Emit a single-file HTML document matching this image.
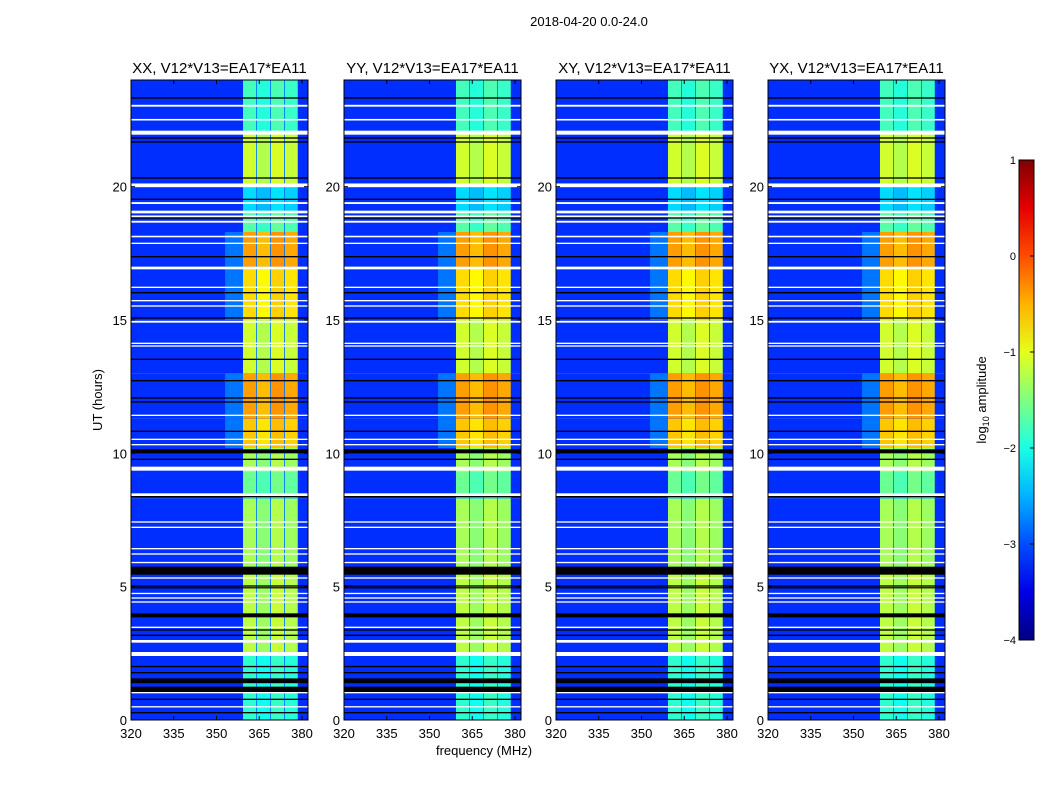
<!DOCTYPE html>
<html><head><meta charset="utf-8"><style>
body{margin:0;background:#fff;}
svg text{font-family:"Liberation Sans",sans-serif;fill:#000;}
</style></head><body>
<svg id="fig" width="1050" height="800" xmlns="http://www.w3.org/2000/svg">
<defs><linearGradient id="jetg" x1="0" y1="1" x2="0" y2="0"></linearGradient></defs>
<text x="589" y="26" font-size="13" text-anchor="middle">2018-04-20 0.0-24.0</text>
<text x="484" y="755" font-size="13" text-anchor="middle">frequency (MHz)</text>
<text transform="translate(102,400) rotate(-90)" font-size="13" text-anchor="middle">UT (hours)</text>
<text transform="translate(986,400) rotate(-90)" font-size="13" text-anchor="middle">log<tspan font-size="9" dy="3">10</tspan><tspan dy="-3"> amplitude</tspan></text>
</svg>
<script>
const panelTitles=["XX, V12*V13=EA17*EA11","YY, V12*V13=EA17*EA11","XY, V12*V13=EA17*EA11","YX, V12*V13=EA17*EA11"];
const freqTicks=[320,335,350,365,380];
const timeTicks=[0,5,10,15,20];
const cbTicks=[1,0,-1,-2,-3,-4];
const cbLabels=["1","0","\u22121","\u22122","\u22123","\u22124"];
const segStart=[0,2.5,5.6,8.3,9.3,10.2,11.3,13.0,15.0,17.0,18.3,19.0,20.0,22.0];
const segEnd=[2.5,5.6,8.3,9.3,10.2,11.3,13.0,15.0,17.0,18.3,19.0,20.0,22.0,24.0];
const segValue=[-1.9,-1.2,-1.3,-1.6,-1.3,-0.6,-0.4,-1.1,-0.7,-0.4,-1.7,-2.3,-1.1,-1.8];
const bgValue=-3.15;
const subbandStart=[359.3,364.2,369.1,374.0];
const subbandEnd=[363.9,368.8,373.7,378.5];
const subbandOffset=[0.0,-0.15,0.05,-0.05];
const whiteFlags=[[23.0,23.07],[22.48,22.54],[21.95,22.1],[19.98,20.12],[19.35,19.42],[19.0,19.1],[18.85,18.92],[18.65,18.72],[18.1,18.16],[17.85,17.9],[16.9,17.0],[16.2,16.25],[15.7,15.75],[15.5,15.55],[14.9,14.97],[14.1,14.15],[14.0,14.05],[11.4,11.45],[10.5,10.55],[10.3,10.35],[9.35,9.5],[8.4,8.5],[7.4,7.45],[7.2,7.25],[6.4,6.45],[6.2,6.25],[5.88,5.93],[5.3,5.35],[4.72,4.77],[4.55,4.6],[4.4,4.45],[3.45,3.5],[2.9,3.0],[2.4,2.55],[1.0,1.05],[0.47,0.52]];
const blackFlags=[[23.3,23.35],[21.8,21.85],[21.65,21.7],[20.3,20.35],[19.5,19.55],[18.8,18.85],[17.35,17.4],[16.0,16.05],[15.05,15.1],[13.5,13.55],[12.7,12.75],[12.05,12.1],[11.9,11.95],[10.8,10.85],[10.0,10.15],[9.75,9.8],[8.35,8.4],[5.45,5.75],[5.0,5.05],[4.96,4.98],[3.85,4.0],[3.35,3.4],[3.15,3.2],[1.98,2.03],[1.75,1.8],[1.38,1.56],[1.05,1.25],[0.75,0.8],[0.25,0.3]];
const NS="http://www.w3.org/2000/svg";
const svg=document.getElementById('fig');
function jet(v){let t=Math.max(0,Math.min(1,(v+4)/5));const c=x=>Math.round(255*Math.max(0,Math.min(1,x)));
return `rgb(${c(1.5-Math.abs(4*t-3))},${c(1.5-Math.abs(4*t-2))},${c(1.5-Math.abs(4*t-1))})`;}
function mk(tag,attrs,parent){const e=document.createElementNS(NS,tag);for(const k in attrs)e.setAttribute(k,attrs[k]);(parent||svg).appendChild(e);return e;}
const panelX=[131,344,556,768],PW=177,PT=80,PB=720;
const fmin=320,fpx=2.85,tmax=24;
panelTitles.forEach((title,p)=>{
 const x0=panelX[p];
 const g=mk('g',{});
 
 
 const xs=f=>x0+(f-fmin)*fpx;
 const ys=h=>PB-(h/tmax)*(PB-PT);
 const clipId='clip'+p;
 const cp=mk('clipPath',{id:clipId},g);mk('rect',{x:x0,y:PT,width:PW,height:PB-PT},cp);
 const hm=mk('g',{'clip-path':`url(#${clipId})`},g);
 
 
 for(let i=0;i<segStart.length;i++){
  const y1=ys(segEnd[i]),y2=ys(segStart[i]),v=segValue[i];
  const r=mk('rect',{x:x0,y:y1,width:PW,height:y2-y1,fill:jet(bgValue)},hm);
  
  
  if(v>-0.9){const tl=mk('rect',{x:xs(353),y:y1,width:xs(359.3)-xs(353),height:y2-y1,fill:jet(bgValue+0.35)},hm);
   
   }
  mk('rect',{x:xs(subbandStart[0]),y:y1,width:xs(subbandEnd[3])-xs(subbandStart[0]),height:y2-y1,fill:jet(-2.8)},hm);
  for(let s=0;s<subbandStart.length;s++){
   const c=mk('rect',{x:xs(subbandStart[s]),y:y1,width:xs(subbandEnd[s])-xs(subbandStart[s]),height:y2-y1,fill:jet(v+subbandOffset[s])},hm);
   
   
  }
 }
 whiteFlags.forEach(([a,b])=>{const r=mk('rect',{x:x0,y:ys(b),width:PW,height:Math.max(1.2,ys(a)-ys(b)),fill:'#fff'},hm);
  
  });
 blackFlags.forEach(([a,b])=>{const r=mk('rect',{x:x0,y:ys(b),width:PW,height:Math.max(1.2,ys(a)-ys(b)),fill:'#000'},hm);
  
  });
 mk('rect',{x:x0,y:PT,width:PW,height:PB-PT,fill:'none',stroke:'#000','stroke-width':1},g);
 const t=mk('text',{x:x0+PW/2,y:73,'font-size':15,'text-anchor':'middle'},g);t.textContent=title;
 
 
 freqTicks.forEach(f=>{const x=xs(f);
  mk('line',{x1:x,x2:x,y1:PB,y2:PB-4,stroke:'#000'},g);mk('line',{x1:x,x2:x,y1:PT,y2:PT+4,stroke:'#000'},g);
  const l=mk('text',{x:x,y:PB+18,'font-size':13,'text-anchor':'middle'},g);l.textContent=f;
  
  });
 timeTicks.forEach(h=>{const y=ys(h);
  mk('line',{x1:x0,x2:x0+4,y1:y,y2:y,stroke:'#000'},g);mk('line',{x1:x0+PW,x2:x0+PW-4,y1:y,y2:y,stroke:'#000'},g);
  const l=mk('text',{x:x0-4,y:y+5,'font-size':13,'text-anchor':'end'},g);l.textContent=h;
  
  });
});
const grad=document.getElementById('jetg');
for(let i=0;i<=10;i++){mk('stop',{offset:i/10,'stop-color':jet(-4+i*0.5)},grad);}
const cbX=1019,cbW=15,cbT=160,cbB=640;
const cbs=v=>cbB-(v+4)/5*(cbB-cbT);
const cb=mk('rect',{x:cbX,y:cbT,width:cbW,height:cbB-cbT,fill:'url(#jetg)',stroke:'#000'});


cbTicks.forEach((v,i)=>{const y=cbs(v);
 mk('line',{x1:cbX+cbW-4,x2:cbX+cbW,y1:y,y2:y,stroke:'#000'});
 const l=mk('text',{x:cbX-3,y:y+4,'font-size':11,'text-anchor':'end'});l.textContent=cbLabels[i];
 
 });
</script>
</body></html>
